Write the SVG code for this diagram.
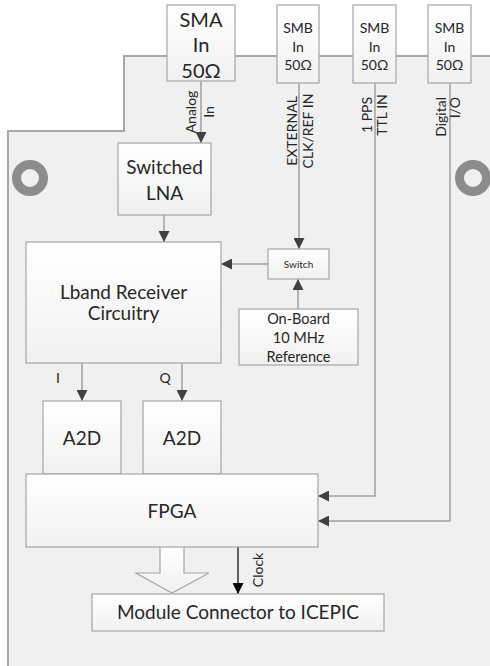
<svg xmlns="http://www.w3.org/2000/svg" width="490" height="666" viewBox="0 0 490 666">
<defs>
<linearGradient id="bg" x1="0" y1="0" x2="0" y2="1">
<stop offset="0" stop-color="#ffffff"/>
<stop offset="1" stop-color="#f1f1f1"/>
</linearGradient>
<marker id="ah" viewBox="0 0 10 10" refX="10" refY="5" markerWidth="11" markerHeight="11" markerUnits="userSpaceOnUse" orient="auto">
<path d="M0,0 L10,5 L0,10 z" fill="#404040"/>
</marker>
<marker id="ahb" viewBox="0 0 10 10" refX="10" refY="5" markerWidth="11" markerHeight="11" markerUnits="userSpaceOnUse" orient="auto">
<path d="M0,0 L10,5 L0,10 z" fill="#000000"/>
</marker>
<style>
.box{fill:url(#bg);stroke:#a6a6a6;stroke-width:1.2}
.t{font-family:Lato,"Open Sans","Liberation Sans",sans-serif;fill:#262626;text-anchor:middle}
.big{font-size:19px}
.sma{font-size:20px}
.med{font-size:14.5px}
.sm{font-size:14px}
.xs{font-size:10px}
.con{fill:none;stroke:#a0a0a0;stroke-width:1.5}
.arr{marker-end:url(#ah)}
</style>
</defs>
<g id="board">
<path d="M492 56 H124 V131 H8 V670 H492 Z" fill="#f0f0f0" stroke="none"/>
<path d="M492 56 H124 V131 H8 V670" fill="none" stroke="#a8a8a8" stroke-width="2"/>
<circle cx="30" cy="178" r="13.5" fill="none" stroke="#8c8c8c" stroke-width="9"/>
<circle cx="473" cy="178" r="13.5" fill="none" stroke="#8c8c8c" stroke-width="9"/>
</g>
<g id="connectors">
<line class="con arr" x1="201" y1="81" x2="201" y2="143"/>
<line class="con arr" x1="299" y1="83" x2="299" y2="249"/>
<polyline class="con arr" points="375,83 375,496 318,496"/>
<polyline class="con arr" points="450,83 450,521 318,521"/>
<line class="con arr" x1="164" y1="215" x2="164" y2="242"/>
<line class="con arr" x1="268" y1="264" x2="221" y2="264"/>
<line class="con arr" x1="298" y1="309" x2="298" y2="279"/>
<line class="con arr" x1="82" y1="363" x2="82" y2="401"/>
<line class="con arr" x1="182" y1="363" x2="182" y2="401"/>
<path d="M160 547 V573 H136 L172 593 L209 573 H184 V547" fill="url(#bg)" stroke="#a6a6a6" stroke-width="1.2"/>
<line x1="238" y1="547" x2="238" y2="594" stroke="#000" stroke-width="1.2" marker-end="url(#ahb)"/>
<g class="t sm">
<text transform="rotate(-90)" x="-112" y="196">Analog</text>
<text transform="rotate(-90)" x="-112" y="214">In</text>
<text transform="rotate(-90)" x="-131" y="297">EXTERNAL</text>
<text transform="rotate(-90)" x="-131" y="313">CLK/REF IN</text>
<text transform="rotate(-90)" x="-115" y="372">1 PPS</text>
<text transform="rotate(-90)" x="-115" y="387">TTL IN</text>
<text transform="rotate(-90)" x="-97" y="446" style="text-anchor:end">Digital</text>
<text transform="rotate(-90)" x="-97" y="460" style="text-anchor:end">I/O</text>
<text transform="rotate(-90)" x="-570" y="263">Clock</text>
<text x="58" y="383">I</text>
<text x="165" y="383">Q</text>
</g>
</g>
<g id="sma">
<rect class="box" x="167" y="5" width="68" height="76"/>
<text class="t sma" x="201" y="27">SMA</text>
<text class="t sma" x="201" y="52">In</text>
<text class="t sma" x="201" y="78">50Ω</text>
</g>
<g id="smb1">
<rect class="box" x="277" y="5" width="42" height="78"/>
<text class="t sm" x="298" y="33">SMB</text>
<text class="t sm" x="298" y="52">In</text>
<text class="t sm" x="298" y="70">50Ω</text>
</g>
<g id="smb2">
<rect class="box" x="353" y="5" width="43" height="78"/>
<text class="t sm" x="374.5" y="33">SMB</text>
<text class="t sm" x="374.5" y="52">In</text>
<text class="t sm" x="374.5" y="70">50Ω</text>
</g>
<g id="smb3">
<rect class="box" x="428" y="5" width="43" height="78"/>
<text class="t sm" x="449.5" y="33">SMB</text>
<text class="t sm" x="449.5" y="52">In</text>
<text class="t sm" x="449.5" y="70">50Ω</text>
</g>
<g id="lna">
<rect class="box" x="118" y="143" width="93" height="72"/>
<text class="t big" x="164.5" y="174">Switched</text>
<text class="t big" x="164.5" y="200">LNA</text>
</g>
<g id="lband">
<rect class="box" x="26" y="242" width="195" height="121"/>
<text class="t big" x="123.5" y="299">Lband Receiver</text>
<text class="t big" x="123.5" y="320">Circuitry</text>
</g>
<g id="switch">
<rect class="box" x="268" y="249" width="61" height="30"/>
<text class="t xs" x="298.5" y="268">Switch</text>
</g>
<g id="onboard">
<rect class="box" x="239" y="309" width="119" height="56"/>
<text class="t med" x="298.5" y="324">On-Board</text>
<text class="t med" x="298.5" y="343">10 MHz</text>
<text class="t med" x="298.5" y="362">Reference</text>
</g>
<g id="a2d1">
<rect class="box" x="43" y="401" width="78" height="73"/>
<text class="t big" x="82" y="445">A2D</text>
</g>
<g id="a2d2">
<rect class="box" x="143" y="401" width="78" height="73"/>
<text class="t big" x="182" y="445">A2D</text>
</g>
<g id="fpga">
<rect class="box" x="26" y="474" width="292" height="73"/>
<text class="t big" x="172" y="518">FPGA</text>
</g>
<g id="module">
<rect class="box" x="92" y="594" width="292" height="37"/>
<text class="t big" x="238" y="619">Module Connector to ICEPIC</text>
</g>
</svg>
